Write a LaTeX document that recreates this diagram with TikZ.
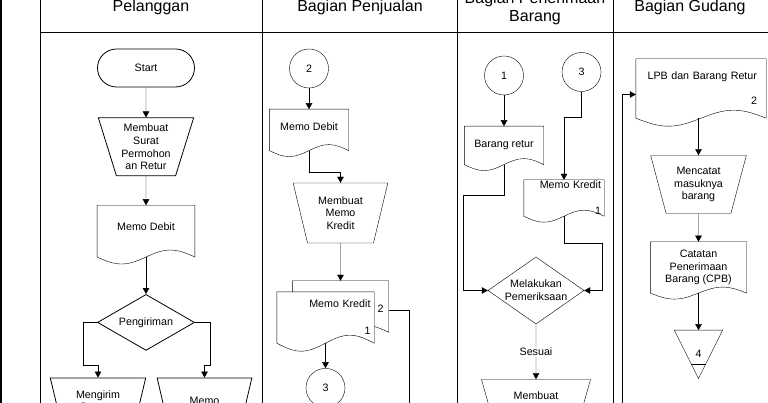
\documentclass[tikz,border=0pt]{standalone}
\usepackage{fontspec}
\setmainfont{Liberation Sans}
\usetikzlibrary{shapes.geometric,arrows.meta,positioning,calc,backgrounds}

\tikzset{
  base/.style={font=\fontsize{10.7}{12.8}\selectfont, align=center, inner sep=1pt},
  term/.style={base, draw, rectangle, rounded corners=19pt, minimum width=97pt, minimum height=38pt},
  manual/.style={base, draw, trapezium, shape border rotate=180, trapezium stretches=true,
    minimum width=96pt, minimum height=58pt, trapezium left angle=#1, trapezium right angle=#1},
  manual/.default=72,
  doc/.style={base, rectangle},
  decision/.style={base, draw, diamond, inner xsep=-8pt, inner ysep=0pt},
  conn/.style={base, draw, circle, minimum size=39pt, inner sep=0pt},
  arr/.style={-{Triangle[length=6pt,width=6.5pt]}},
  head/.style={font=\fontsize{16}{17.5}\selectfont, align=center}
}

% document outline with wavy bottom, behind the node text
\newcommand{\docline}[2][7]{%
  \begin{pgfonlayer}{background}
  \draw[fill=white] let \p1=(#2.south west), \p2=(#2.south east), \n1={(\x2-\x1)/4} in
    (#2.north west) -- (#2.north east) -- (\p2)
    sin ++(-\n1,-#1) cos ++(-\n1,#1) sin ++(-\n1,#1) cos ++(-\n1,-#1) -- cycle;
  \end{pgfonlayer}}

\begin{document}
\begin{tikzpicture}[x=1pt, y=-1pt, line width=0.8pt]
\useasboundingbox (0,0) rectangle (768,403);
\clip (0,0) rectangle (768,403);

% lanes
\draw[line width=2pt] (1,0) -- (1,403);
\draw (40,0) -- (40,403) (262,0) -- (262,403) (457,0) -- (457,403) (613,0) -- (613,403);
\draw (40,32) -- (768,32);
\node[head] (h1) at (151,7) {Pelanggan};
\node[head] (h2) at (360,7) {Bagian Penjualan};
\node[head] (h3) at (535,8.5) {Bagian Penerimaan\\Barang};
\node[head] (h4) at (690,7) {Bagian Gudang};

% Pelanggan
\node[term] (start) at (146,68) {Start};
\node[manual] (m1) [below=30pt of start] {Membuat\\Surat\\Permohon\\an Retur};
\node[doc, minimum width=97pt, minimum height=51pt, text depth=9pt] (md1) [below=29pt of m1] {Memo Debit};
\node[decision, minimum width=97pt, minimum height=56pt] (pg) [below=37pt of md1] {Pengiriman};
\node[manual=75] (kb1) at (98,407) {Mengirim\\Barang\\Retur};
\node[manual=74, minimum width=95pt] (kb2) at (204.5,407) {Memo\\Debit};
\docline{md1}

% Bagian Penjualan
\node[conn] (c2) at (309,68.5) {2};
\node[doc, minimum width=79pt, minimum height=41pt, text depth=7pt] (md2) [below=21pt of c2] {Memo Debit};
\node[manual=74, minimum width=95pt, minimum height=60pt] (mm) at (340.5,213) {Membuat\\Memo\\Kredit};
\node[doc, minimum width=96pt, minimum height=51pt, align=right, text width=86pt] (mkb) at (340.5,306.5) {\mbox{}\\2};
\node[doc, minimum width=97pt, minimum height=51pt, align=right, text width=90pt] (mkf) at (325.5,317.5) {Memo Kredit\\[14pt]1};
\node[conn] (c3a) [below=25pt of mkf] {3};
\coordinate (out2) at (409,410);
\docline[6]{md2}
\docline{mkb}
\docline[8]{mkf}

% Bagian Penerimaan Barang
\node[conn] (c1) at (504,75.5) {1};
\node[conn] (c3b) at (581.5,72) {3};
\node[doc, minimum width=79pt, minimum height=38pt] (br) [below=31pt of c1] {Barang retur};
\node[doc, minimum width=80pt, minimum height=36pt, align=right, text width=74pt] (mk3) at (564,198) {Memo Kredit\\[13pt]1};
\node[decision, minimum width=96pt, minimum height=57pt] (dm) at (536,290.5) {Melakukan\\Pemeriksaan};
\node[manual=70, minimum width=110pt] (lr) [below=55pt of dm] {Membuat\\Laporan\\Penerimaan};
\docline[6]{br}
\docline[6]{mk3}

% Bagian Gudang
\node[doc, minimum width=130pt, minimum height=59pt, align=right, text width=112pt] (lpb) at (701,88.5) {LPB dan Barang Retur\\[12pt]2};
\node[manual] (mc) at (698.5,184.5) {Mencatat\\masuknya\\barang};
\node[doc, minimum width=96pt, minimum height=51pt] (cpb) [below=28pt of mc] {Catatan\\Penerimaan\\Barang (CPB)};
\node[base, minimum width=48pt, minimum height=48pt, inner sep=0pt] (off) [below=37pt of cpb] {4};
\coordinate (in4) at (622,410);
\docline[8]{lpb}
\docline[6]{cpb}
\draw (off.north west) -- (off.north east) -- (off.south) -- cycle;
\draw ($(off.south)!0.3!(off.north west)$) -- ($(off.south)!0.3!(off.north east)$);

% connectors
\draw[arr] (start) -- (m1);
\draw[arr] (m1) -- (md1);
\draw[arr] (md1) -- (pg);
\draw[arr] (pg.west) -| ++(-14,43) -| (kb1.north);
\draw[arr] (pg.east) -| ++(15,43) -| (kb2.north);

\draw[arr] (c2) -- (md2);
\draw[arr] (md2.south) -- ++(0,22) -| (mm.north);
\draw[arr] (mm) -- (mkb);
\draw[arr] (mkf) -- (c3a);
\draw[arr] ([yshift=-4pt]mkb.east) -| (out2);

\draw[arr] (c1) -- (br);
\draw[arr] (c3b.south) -- ++(0,26) -| (mk3.north);
\draw[arr] (br.south) -- ++(0,31) -| ([xshift=-25pt]dm.west) -- (dm.west);
\draw[arr] (mk3.south) -- ++(0,27) -| ([xshift=18pt]dm.east) -- (dm.east);
\draw[arr] (dm) -- node[base, fill=white] (ses) {Sesuai} (lr);

\draw[arr] (in4) |- ([yshift=-6pt]lpb.west);
\draw[arr] (lpb.south -| mc.north) -- (mc.north);
\draw[arr] (mc) -- (cpb);
\draw[arr] (cpb) -- (off);
\end{tikzpicture}
\end{document}
